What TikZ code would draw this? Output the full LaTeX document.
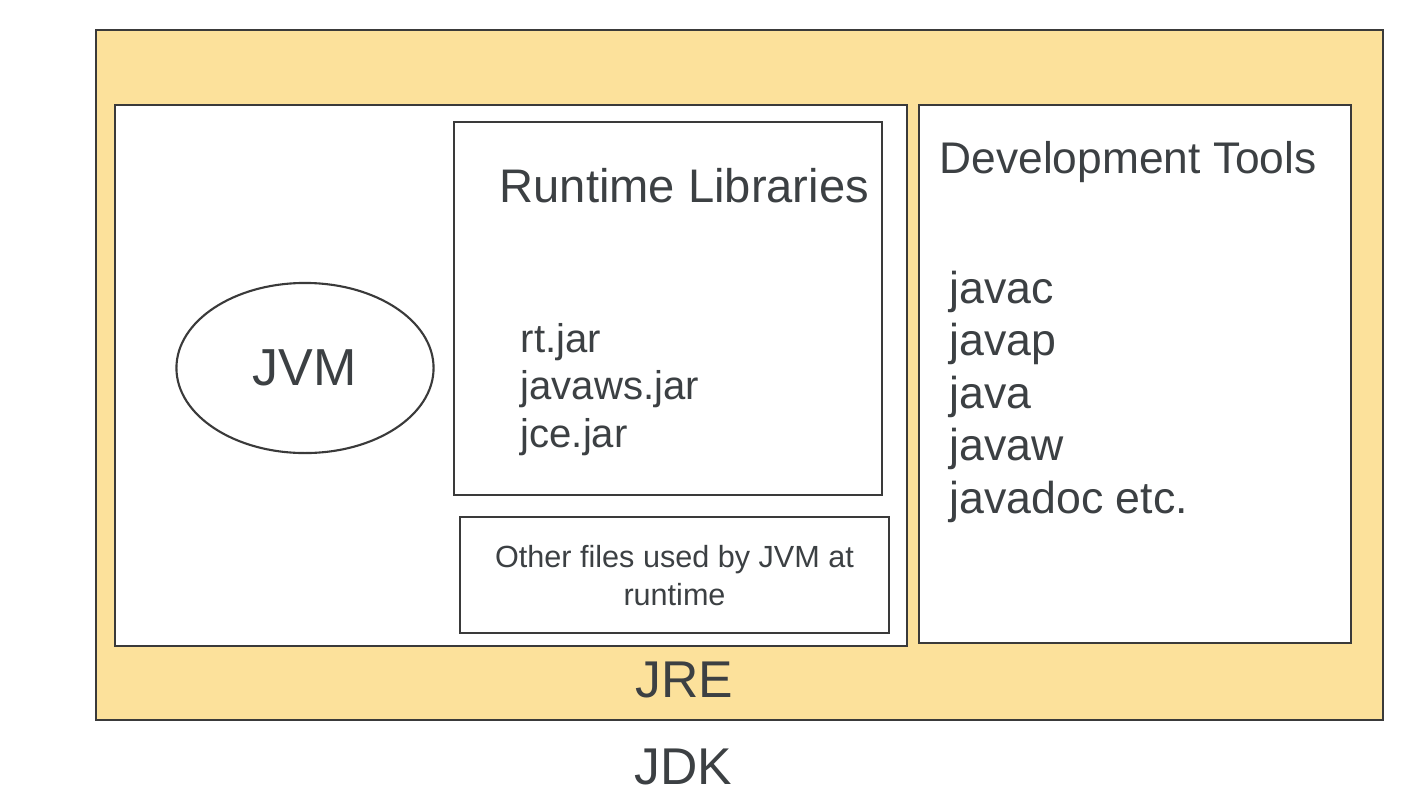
\documentclass[tikz,border=0pt]{standalone}
\usepackage{fontspec}
\setmainfont{Liberation Sans}
\usepackage{tikz}
\usetikzlibrary{shapes.geometric}
\definecolor{jdkfill}{HTML}{FCE19B}
\definecolor{inkgray}{HTML}{3C4043}
\definecolor{frameline}{HTML}{3A3A3A}
\tikzset{
  frame/.style={draw=frameline,line width=0.6pt},
  txt/.style={text=inkgray,inner sep=0pt},
  heading/.style={txt,anchor=base west},
  jaritem/.style={txt,anchor=base west,font=\fontsize{11.4}{13.5}\selectfont},
  toolitem/.style={txt,anchor=base west,font=\fontsize{12.7}{15}\selectfont},
  bigname/.style={txt,anchor=base,font=\fontsize{14.7}{17}\selectfont},
}

\begin{document}
\begin{tikzpicture}[x=0.01cm,y=-0.01cm]
  \useasboundingbox (0,0) rectangle (1422,800);
  % nested boxes
  \draw[frame,fill=jdkfill] (96,30) rectangle (1383,720);
  \draw[frame,fill=white] (115,105) rectangle (907,646);
  \draw[frame,fill=white] (919,105) rectangle (1351,643);
  \draw[frame] (454,122) rectangle (882,495);
  \draw[frame] (460,517) rectangle (889,633);
  \node[frame,ellipse,fill=white,text=inkgray,inner sep=0pt,minimum width=2.57cm,minimum height=1.70cm,font=\fontsize{14.8}{17}\selectfont] (jvm) at (305,368) {JVM};
  % runtime libraries
  \node[heading,font=\fontsize{13.4}{16}\selectfont] (rtlib) at (499,202) {Runtime Libraries};
  \foreach \t [count=\i] in {rt.jar,javaws.jar,jce.jar}
    \node[jaritem] (jar\i) at (520,{352+47.5*(\i-1)}) {\t};
  \node[txt,align=center,font=\fontsize{8.7}{10.8}\selectfont] (other) at (674.5,576) {Other files used by JVM at\\runtime};
  % development tools
  \node[heading,font=\fontsize{12.6}{15}\selectfont] (devtools) at (939,173) {Development Tools};
  \foreach \t [count=\i] in {javac,javap,java,javaw,javadoc etc.}
    \node[toolitem] (tool\i) at (949,{303+52.5*(\i-1)}) {\t};
  \node[bigname] (jre) at (684,697) {JRE};
  \node[bigname] (jdk) at (683.5,784) {JDK};
\end{tikzpicture}
\end{document}
